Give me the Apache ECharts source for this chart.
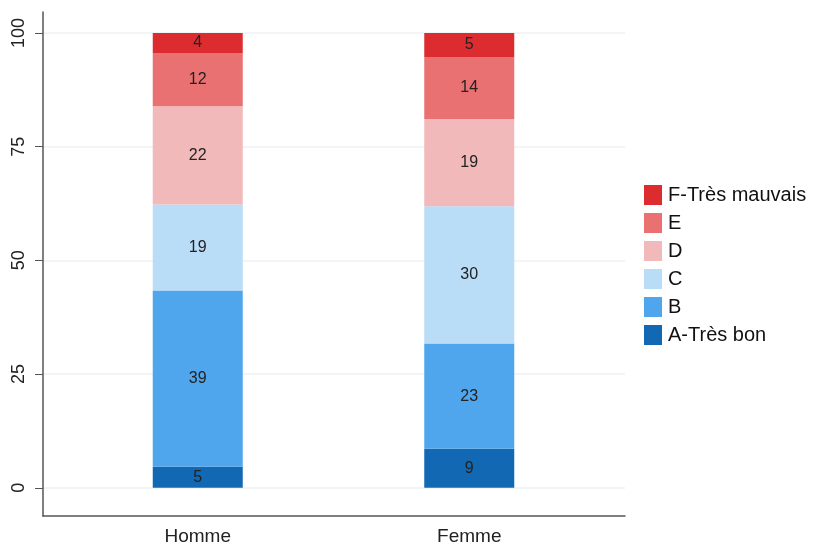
<!DOCTYPE html>
<html><head><meta charset="utf-8">
<script src="https://cdn.jsdelivr.net/npm/echarts@6/dist/echarts.min.js"></script>
<style>html,body{margin:0;padding:0;background:#fff}#c{width:819px;height:546px}</style>
</head><body><div id="c"></div>
<script>
const categories = ['Homme', 'Femme'];
const seriesNames = ['A-Très bon', 'B', 'C', 'D', 'E', 'F-Très mauvais'];
const valsA = [4.6, 8.6];
const valsB = [38.8, 23.1];
const valsC = [18.9, 30.2];
const valsD = [21.6, 19.2];
const valsE = [11.7, 13.6];
const valsF = [4.4, 5.3];
const yTicks = [0, 25, 50, 75, 100];
const colors = ['#1368b3', '#4fa6ec', '#b9dcf7', '#f2b9ba', '#e97171', '#dd2c30'];

const allVals = [valsA, valsB, valsC, valsD, valsE, valsF];
const font = 'Liberation Sans, Arial, sans-serif';
const yMin = -6.2, yMax = 104.6;
const chart = echarts.init(document.getElementById('c'));
chart.setOption({
  animation: false,
  grid: [
    { left: 43, right: 194, top: 12, bottom: 30, containLabel: false },
    { left: 62, right: 214, top: 12, bottom: 30, containLabel: false }
  ],
  legend: {
    data: seriesNames.slice().reverse(),
    orient: 'vertical', left: 639, top: 180,
    icon: 'rect', itemWidth: 18, itemHeight: 20, itemGap: 8,
    textStyle: { fontFamily: font, fontSize: 20, color: '#111', padding: [0, 0, 0, 1] }
  },
  xAxis: [
    {
      gridIndex: 0, type: 'value', min: 0, max: 1,
      axisLine: { show: true, onZero: false, lineStyle: { color: '#555', width: 1.5 } },
      axisTick: { show: false }, splitLine: { show: false }, axisLabel: { show: false }
    },
    {
      gridIndex: 1, type: 'category', data: categories,
      axisLine: { show: false }, axisTick: { show: false }, splitLine: { show: false },
      axisLabel: { fontFamily: font, fontSize: 19, color: '#222', margin: 11 }
    }
  ],
  yAxis: [
    {
      gridIndex: 0, type: 'value', min: yMin, max: yMax,
      axisLine: { show: true, onZero: false, lineStyle: { color: '#555', width: 1.5 } },
      axisTick: { show: true, customValues: yTicks, length: 8, lineStyle: { color: '#555' } },
      splitLine: { show: true, lineStyle: { color: '#edf2f5', width: 1.5 } },
      axisLabel: {
        customValues: yTicks, rotate: 90,
        fontFamily: font, fontSize: 18, color: '#222', margin: 15
      }
    },
    {
      gridIndex: 1, type: 'value', min: yMin, max: yMax, show: false,
      splitLine: { show: false }
    }
  ],
  series: seriesNames.map((n, i) => ({
    name: n, type: 'bar', stack: 'total', barWidth: 90,
    xAxisIndex: 1, yAxisIndex: 1,
    itemStyle: { color: colors[i] },
    label: {
      show: true, position: 'inside',
      formatter: p => Math.round(p.value),
      fontFamily: font, fontSize: 16, color: '#222'
    },
    data: allVals[i]
  }))
});
</script></body></html>
